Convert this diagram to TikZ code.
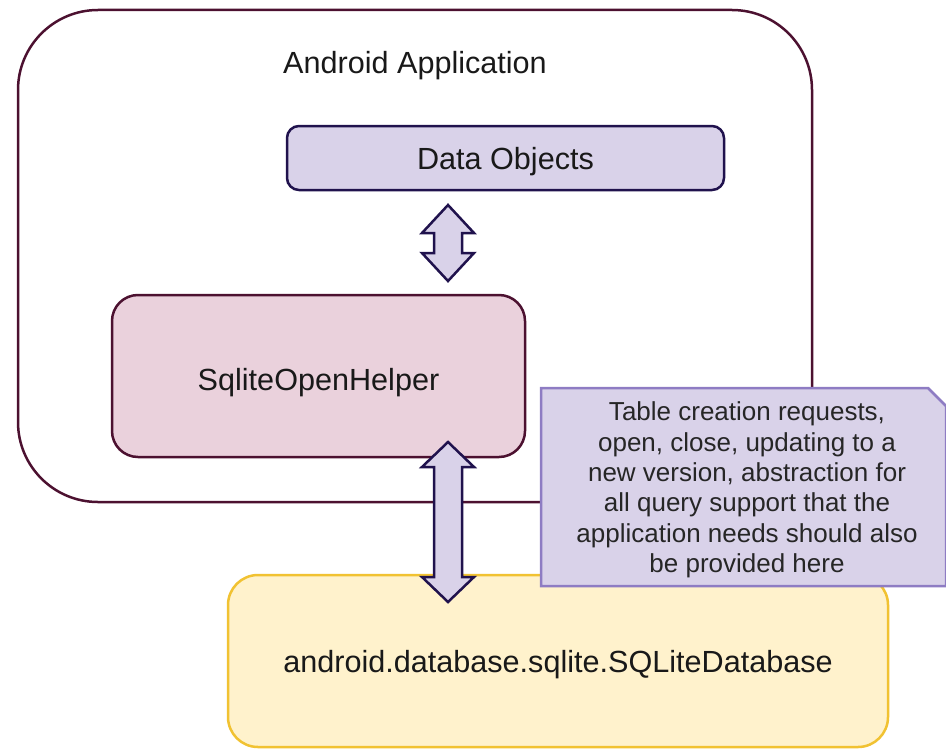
\documentclass[tikz,border=0pt]{standalone}
\usepackage{fontspec}
\setmainfont{Liberation Sans}
\usetikzlibrary{calc}
\definecolor{appline}{HTML}{4C1130}
\definecolor{objfill}{HTML}{D9D2E9}
\definecolor{objline}{HTML}{20124D}
\definecolor{helperfill}{HTML}{EAD1DC}
\definecolor{dbfill}{HTML}{FFF2CC}
\definecolor{dbline}{HTML}{F1C232}
\definecolor{noteline}{HTML}{8E7CC3}
\begin{document}
\begin{tikzpicture}[x=0.5pt,y=-0.5pt,
    label text/.style={font=\fontsize{15.3}{18}\selectfont, text=black!90, text height=11pt, text depth=0pt},
    appbox/.style={draw=appline, line width=1.25pt, rounded corners=40pt, inner sep=0pt},
    objbox/.style={draw=objline, fill=objfill, line width=1.25pt, rounded corners=6pt, inner sep=0pt, label text},
    helperbox/.style={draw=appline, fill=helperfill, line width=1.25pt, rounded corners=13pt, inner sep=0pt, label text},
    dbbox/.style={draw=dbline, fill=dbfill, line width=1.25pt, rounded corners=15pt, inner sep=0pt, label text},
    blockarrow/.style={draw=objline, fill=objfill, line width=1.25pt, line join=miter}]
    \useasboundingbox (0,0) rectangle (946,749);

    % Application
    \node[appbox, minimum width=397pt, minimum height=246pt] (app) at (415,256) {};
    \node[label text] (apptitle) at (415,63) {Android Application};

    % Boxes
    \node[objbox, minimum width=218.5pt, minimum height=32pt] (dobj) at (505.5,158) {Data Objects};
    \node[helperbox, minimum width=206.5pt, minimum height=81pt, text height=14.8pt] (helper) at (318.5,376) {SqliteOpenHelper};
    \node[dbbox, minimum width=330pt, minimum height=86pt] (db) at (558,661) {android.database.sqlite.SQLiteDatabase};

    % Double arrows
    \coordinate (a1t) at (448,205);
    \coordinate (a1b) at (448,281);
    \draw[blockarrow] (a1t) -- ++(26,28) -- ++(-12,0) -- ($(a1b)+(14,-28)$) -- ++(12,0) -- (a1b)
        -- ++(-26,-28) -- ++(12,0) -- ($(a1t)+(-14,28)$) -- ++(-12,0) -- cycle;
    \coordinate (a2t) at (448,442);
    \coordinate (a2b) at (448,602);
    \draw[blockarrow] (a2t) -- ++(26,25) -- ++(-12,0) -- ($(a2b)+(14,-25)$) -- ++(12,0) -- (a2b)
        -- ++(-26,-25) -- ++(12,0) -- ($(a2t)+(-14,25)$) -- ++(-12,0) -- cycle;

    % Note
    \draw[draw=noteline, fill=objfill, line width=1.25pt, line join=miter]
        (541,388) -- (928,388) -- (946,406) -- (946,586) -- (541,586) -- cycle;
    \node[font=\fontsize{13}{15.2}\selectfont, text=black!85, align=center] (note) at (747,490)
        {Table creation requests,\\open, close, updating to a\\new version, abstraction for\\all query support that the\\application needs should also\\be provided here};
\end{tikzpicture}
\end{document}
